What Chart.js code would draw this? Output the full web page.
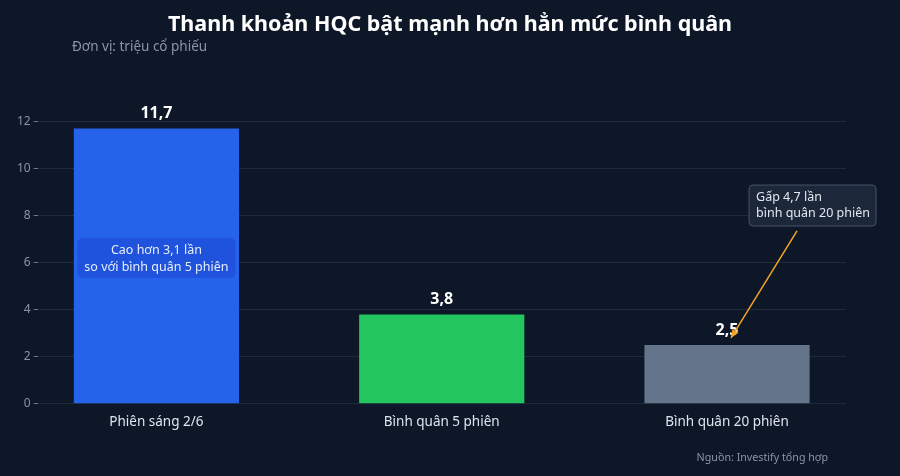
<!DOCTYPE html>
<html>
<head>
<meta charset="utf-8">
<script src="https://cdn.jsdelivr.net/npm/chart.js@4"></script>
<style>
  html, body { margin: 0; padding: 0; background: #0d1727; }
  #wrap { width: 900px; height: 476px; position: relative; }
</style>
</head>
<body>
<div id="wrap"><canvas id="liquidityChart"></canvas></div>
<script>
// data
const categories = ['Phiên sáng 2/6', 'Bình quân 5 phiên', 'Bình quân 20 phiên'];
const volumes = [11.7, 3.8, 2.5];
const yTicks = [0, 2, 4, 6, 8, 10, 12];

const barColors = ['#2563eb', '#22c55e', '#64748b'];
const FONT = "'Noto Sans', 'Open Sans', sans-serif";

const fmt = (v) => v.toFixed(1).replace('.', ',');

const roundRect = (ctx, x, y, w, h, r) => {
    ctx.beginPath();
    ctx.moveTo(x + r, y);
    ctx.arcTo(x + w, y, x + w, y + h, r);
    ctx.arcTo(x + w, y + h, x, y + h, r);
    ctx.arcTo(x, y + h, x, y, r);
    ctx.arcTo(x, y, x + w, y, r);
    ctx.closePath();
};

// titles, value labels, callouts
const decorations = {
    id: 'decorations',
    afterDatasetsDraw(chart) {
        const ctx = chart.ctx;
        const xs = chart.scales.x, ys = chart.scales.y;
        ctx.save();

        ctx.fillStyle = '#ffffff';
        ctx.font = `bold 21.5px ${FONT}`;
        ctx.textAlign = 'center';
        ctx.textBaseline = 'middle';
        ctx.fillText('Thanh khoản HQC bật mạnh hơn hẳn mức bình quân', 450, 25);

        ctx.fillStyle = '#8a96a8';
        ctx.font = `13.5px ${FONT}`;
        ctx.textAlign = 'left';
        ctx.fillText('Đơn vị: triệu cổ phiếu', 72, 47);

        ctx.font = `10.7px ${FONT}`;
        ctx.textAlign = 'right';
        ctx.fillText('Nguồn: Investify tổng hợp', 828, 458);

        // value labels
        const meta = chart.getDatasetMeta(0);
        ctx.fillStyle = '#ffffff';
        ctx.font = `bold 16px ${FONT}`;
        ctx.textAlign = 'center';
        meta.data.forEach((bar, i) => {
            ctx.fillText(fmt(volumes[i]), bar.x, bar.y - 15);
        });

        // callout inside first bar
        const cx = xs.getPixelForValue(0), cy = ys.getPixelForValue(6.2);
        ctx.fillStyle = 'rgba(29, 78, 216, 0.75)';
        roundRect(ctx, cx - 79, cy - 20, 158, 40, 5);
        ctx.fill();
        ctx.fillStyle = '#e8eefc';
        ctx.font = `12.5px ${FONT}`;
        ctx.fillText('Cao hơn 3,1 lần', cx, cy - 8);
        ctx.fillText('so với bình quân 5 phiên', cx, cy + 9);

        // arrow to third bar
        const hx = xs.getPixelForValue(2) + 4, hy = ys.getPixelForValue(2.8);
        const tx = hx + 66, ty = ys.getPixelForValue(7.35);
        ctx.strokeStyle = '#f5a524';
        ctx.fillStyle = '#f5a524';
        ctx.lineWidth = 1.5;
        ctx.beginPath();
        ctx.moveTo(tx, ty);
        ctx.lineTo(hx, hy);
        ctx.stroke();
        const ang = Math.atan2(hy - ty, hx - tx);
        ctx.beginPath();
        ctx.moveTo(hx, hy);
        ctx.lineTo(hx - 9 * Math.cos(ang - 0.4), hy - 9 * Math.sin(ang - 0.4));
        ctx.lineTo(hx - 9 * Math.cos(ang + 0.4), hy - 9 * Math.sin(ang + 0.4));
        ctx.closePath();
        ctx.fill();

        // callout box
        const bx = hx + 18, by = ys.getPixelForValue(9.3);
        ctx.fillStyle = '#1c283a';
        ctx.strokeStyle = '#46546a';
        ctx.lineWidth = 1;
        roundRect(ctx, bx, by, 127, 41, 4);
        ctx.fill();
        ctx.stroke();
        ctx.fillStyle = '#e2e8f0';
        ctx.font = `12.5px ${FONT}`;
        ctx.textAlign = 'left';
        ctx.fillText('Gấp 4,7 lần', bx + 7, by + 12);
        ctx.fillText('bình quân 20 phiên', bx + 7, by + 28);

        ctx.restore();
    }
};

new Chart(document.getElementById('liquidityChart'), {
    type: 'bar',
    data: {
        datasets: [{
            data: volumes.map((v, i) => ({ x: i, y: v })),
            backgroundColor: barColors,
            barPercentage: 0.579,
            categoryPercentage: 1
        }]
    },
    options: {
        responsive: true,
        maintainAspectRatio: false,
        animation: false,
        layout: { padding: { top: 98, left: 14, right: 54, bottom: 44 } },
        plugins: {
            legend: { display: false },
            tooltip: { enabled: false }
        },
        scales: {
            x: {
                type: 'linear',
                min: -0.416,
                max: 2.417,
                offset: false,
                afterBuildTicks: (axis) => { axis.ticks = categories.map((c, i) => ({ value: i })); },
                grid: { display: false },
                border: { display: false },
                ticks: {
                    color: '#dfe5ee',
                    font: { family: FONT, size: 13.5 },
                    padding: 2,
                    callback: (v) => categories[v]
                }
            },
            y: {
                min: 0,
                max: 13,
                afterBuildTicks: (axis) => { axis.ticks = yTicks.map(v => ({ value: v })); },
                grid: { color: '#1f2b3c', tickColor: '#6b778a', tickLength: 4 },
                border: { display: false },
                ticks: { color: '#8a96a8', font: { family: FONT, size: 12 }, padding: 3 }
            }
        }
    },
    plugins: [decorations]
});
</script>
</body>
</html>
